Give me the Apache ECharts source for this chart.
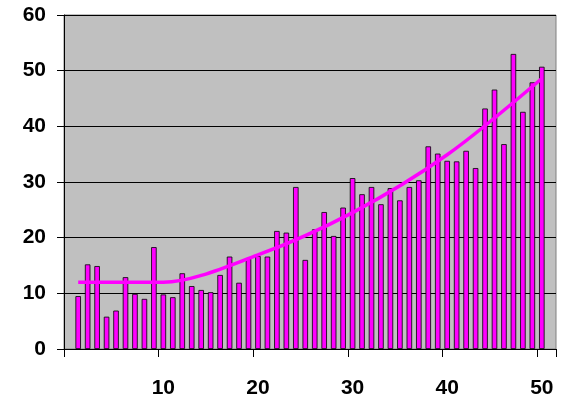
<!DOCTYPE html>
<html>
<head>
<meta charset="utf-8">
<script src="https://cdn.jsdelivr.net/npm/echarts@6/dist/echarts.min.js"></script>
<style>
  html, body { margin: 0; padding: 0; background: #ffffff; }
  #chart { width: 565px; height: 401px; }
</style>
</head>
<body>
<div id="chart"></div>
<script>
// Category slots 0..51; bars occupy 1..50, slots 0 and 51 are padding.
const categories = [];
for (let i = 0; i <= 51; i++) categories.push(String(i));

const barX = [];
for (let i = 1; i <= 50; i++) barX.push(String(i));

const barValues = [
  9.5, 15.2, 14.9, 5.8, 6.9, 12.9, 9.9, 9.0, 18.3, 9.8,
  9.3, 13.6, 11.3, 10.6, 10.2, 13.3, 16.6, 11.9, 16.2, 16.7,
  16.6, 21.2, 20.9, 29.1, 16.0, 21.5, 24.6, 20.3, 25.4, 30.7,
  27.8, 29.1, 26.0, 28.9, 26.7, 29.1, 30.3, 36.4, 35.1, 33.8,
  33.7, 35.6, 32.5, 43.2, 46.6, 36.8, 53.0, 42.6, 47.9, 50.7
];

// Trend curve knots (x position, value)
const trendX = ['1', '10', '20', '30', '40', '50'];
const trendValues = [12, 12, 16.9, 24.5, 34.9, 48.6];

const yTicks = [0, 10, 20, 30, 40, 50, 60];
const xLabelEvery = 10;

const chart = echarts.init(document.getElementById('chart'), null, { renderer: 'canvas' });

const labelFont = {
  fontFamily: '"Liberation Sans", Arial, sans-serif',
  fontWeight: 'bold',
  fontSize: 21,
  color: '#000000'
};

chart.setOption({
  animation: false,
  backgroundColor: '#ffffff',
  grid: {
    left: 64,
    right: 9,
    top: 15,
    bottom: 52,
    show: true,
    backgroundColor: '#C0C0C0',
    borderColor: '#808080',
    borderWidth: 1
  },
  xAxis: {
    type: 'category',
    data: categories,
    boundaryGap: true,
    axisLine: { show: true, lineStyle: { color: '#000000', width: 1 } },
    axisTick: {
      show: true,
      length: 8,
      interval: (idx) => idx % xLabelEvery === 0,
      lineStyle: { color: '#000000', width: 1 }
    },
    axisLabel: Object.assign({
      margin: 29,
      interval: (idx) => idx > 0 && idx % xLabelEvery === 0
    }, labelFont),
    splitLine: { show: false }
  },
  yAxis: {
    type: 'value',
    min: yTicks[0],
    max: yTicks[yTicks.length - 1],
    interval: 10,
    axisLine: { show: true, lineStyle: { color: '#000000', width: 1 } },
    axisTick: { show: true, inside: false, length: 7, lineStyle: { color: '#000000' } },
    axisLabel: Object.assign({ margin: 18 }, labelFont),
    splitLine: { show: true, lineStyle: { color: '#000000', width: 1 } }
  },
  series: [
    {
      type: 'bar',
      data: barX.map((x, i) => [x, barValues[i]]),
      barWidth: 5.5,
      itemStyle: {
        color: '#FF00FF',
        borderColor: '#000000',
        borderWidth: 0.8
      },
      z: 2
    },
    {
      type: 'line',
      data: trendX.map((x, i) => [x, trendValues[i]]),
      smooth: 0.3,
      showSymbol: false,
      symbol: 'none',
      lineStyle: { color: '#FF00FF', width: 3.5 },
      z: 3
    }
  ]
});
</script>
</body>
</html>
